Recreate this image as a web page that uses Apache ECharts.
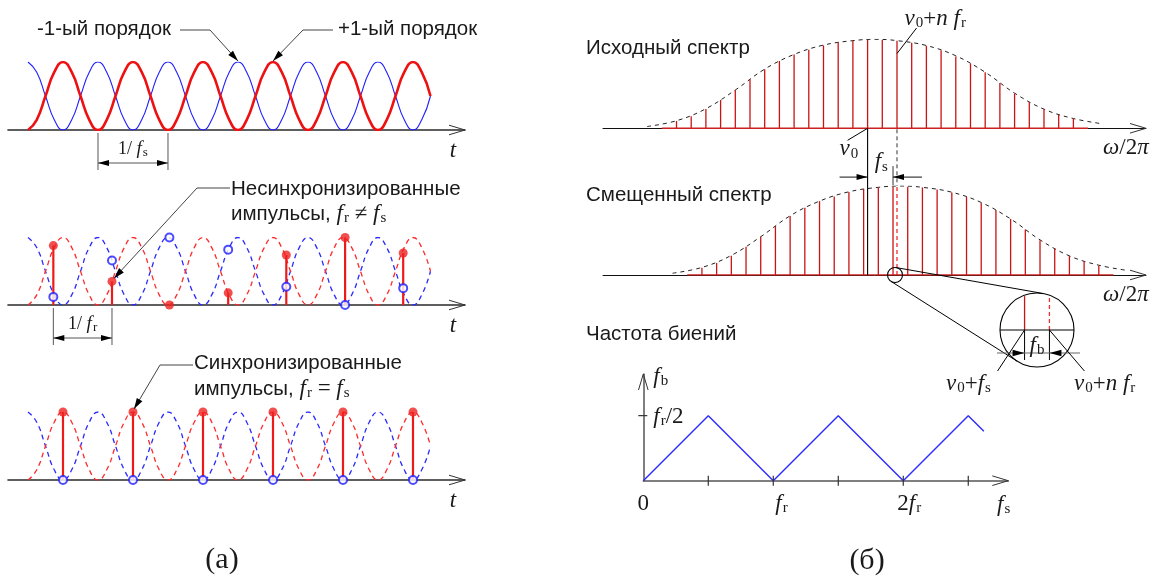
<!DOCTYPE html>
<html>
<head>
<meta charset="utf-8">
<script src="https://cdn.jsdelivr.net/npm/echarts@6/dist/echarts.min.js"></script>
<style>
  html, body { margin: 0; padding: 0; background: #fff; }
  #c { width: 1153px; height: 578px; }
</style>
</head>
<body>
<div id="c"></div>
<script>
// ---- (а) time domain: the two diffraction orders, time in units of 1/f_s ----
const waveT = [0, 0.125, 0.25, 0.375, 0.5, 0.625, 0.75, 0.875,
  1, 1.125, 1.25, 1.375, 1.5, 1.625, 1.75, 1.875,
  2, 2.125, 2.25, 2.375, 2.5, 2.625, 2.75, 2.875,
  3, 3.125, 3.25, 3.375, 3.5, 3.625, 3.75, 3.875,
  4, 4.125, 4.25, 4.375, 4.5, 4.625, 4.75, 4.875,
  5, 5.125, 5.25, 5.375, 5.5, 5.625, 5.75];
// +1 order (red)
const redWave = [0, 0.15, 0.5, 0.85, 1, 0.85, 0.5, 0.15,
  0, 0.15, 0.5, 0.85, 1, 0.85, 0.5, 0.15,
  0, 0.15, 0.5, 0.85, 1, 0.85, 0.5, 0.15,
  0, 0.15, 0.5, 0.85, 1, 0.85, 0.5, 0.15,
  0, 0.15, 0.5, 0.85, 1, 0.85, 0.5, 0.15,
  0, 0.15, 0.5, 0.85, 1, 0.85, 0.5];
// -1 order (blue)
const blueWave = [1, 0.85, 0.5, 0.15, 0, 0.15, 0.5, 0.85,
  1, 0.85, 0.5, 0.15, 0, 0.15, 0.5, 0.85,
  1, 0.85, 0.5, 0.15, 0, 0.15, 0.5, 0.85,
  1, 0.85, 0.5, 0.15, 0, 0.15, 0.5, 0.85,
  1, 0.85, 0.5, 0.15, 0, 0.15, 0.5, 0.85,
  1, 0.85, 0.5, 0.15, 0, 0.15, 0.5];

// pulses not locked to the drive: f_r != f_s
const asyncT    = [0.362, 1.2, 2.02, 2.86, 3.69, 4.53, 5.36];
const asyncRed  = [0.88, 0.35, 0.0, 0.18, 0.74, 1.0, 0.77];
const asyncBlue = [0.12, 0.66, 1.0, 0.82, 0.27, 0.0, 0.25];

// pulses locked to the drive: f_r = f_s
const syncT    = [0.5, 1.5, 2.5, 3.5, 4.5, 5.5];
const syncRed  = [1, 1, 1, 1, 1, 1];
const syncBlue = [0, 0, 0, 0, 0, 0];

// ---- (б) frequency domain: comb lines, offset from ν0 in units of f_r ----
const combIndex = [-13, -12, -11, -10, -9, -8, -7, -6, -5, -4, -3, -2, -1, 0,
  1, 2, 3, 4, 5, 6, 7, 8, 9, 10, 11, 12, 13, 14];
const combHeights = [0.082, 0.135, 0.217, 0.318, 0.43, 0.55, 0.663, 0.756, 0.83, 0.883, 0.932, 0.966, 0.984, 0.992,
  0.992, 0.984, 0.962, 0.928, 0.877, 0.808, 0.73, 0.63, 0.51, 0.39, 0.296, 0.213, 0.153, 0.108];
const envelopeX = [-15, -13, -11, -9, -7, -5, -3, -1, 0.5, 2, 4, 6, 8, 10, 12, 14, 16];
const envelopeY = [0.02, 0.085, 0.22, 0.43, 0.665, 0.83, 0.935, 0.985, 1.0, 0.985, 0.93, 0.815, 0.63, 0.395, 0.215, 0.11, 0.05];
const combBaseline = [-14, 15];
const combShift = 1.73;      // f_s / f_r : shift of the comb by the drive frequency
const nearestLine = 2;       // n of the line ν0 + n f_r closest to ν0 + f_s

// beat frequency versus drive frequency (both in units of f_r)
const beatX = [0, 0.5, 1, 1.5, 2, 2.5, 2.62];
const beatY = [0, 0.5, 0, 0.5, 0, 0.5, 0.38];
const beatTicks = [0.5, 1, 1.5, 2, 2.5];

const SERIF = '"Liberation Serif", "DejaVu Serif", serif';
const SANS = '"Liberation Sans", Arial, sans-serif';
const INK = '#1a1a1a';

const pairs = (xs, ys) => xs.map((x, i) => [x, ys[i]]);
const shifted = (xs, d) => xs.map(x => x + d);

function stemRender(color, width, dash) {
  return function (params, api) {
    const x = api.value(0), y = api.value(1);
    const p0 = api.coord([x, 0]), p1 = api.coord([x, y]);
    return { type: 'line', shape: { x1: p0[0], y1: p0[1], x2: p1[0], y2: p1[1] },
      style: { stroke: color, lineWidth: width, lineDash: dash || null } };
  };
}
// lines inside the magnifier run from its axis to the rim
function insetRender(color, dash) {
  return function (params, api) {
    const cs = params.coordSys;
    const cx = cs.x + cs.width / 2, cy = cs.y + cs.height, R = cs.width / 2;
    const p0 = api.coord([api.value(0), 0]);
    const dx = p0[0] - cx;
    const top = cy - Math.sqrt(Math.max(R * R - dx * dx, 0)) + 1;
    return { type: 'line', shape: { x1: p0[0], y1: p0[1], x2: p0[0], y2: top },
      style: { stroke: color, lineWidth: 1.3, lineDash: dash || null } };
  };
}

const hiddenY = (g, max) => ({ gridIndex: g, type: 'value', min: 0, max: max || 1, show: false });
const timeAxis = g => ({ gridIndex: g, type: 'value', min: -0.2857, max: 6.2429,
  axisLine: { show: true, onZero: true, lineStyle: { color: '#2a2a2a', width: 1.6 } },
  axisTick: { show: false }, axisLabel: { show: false }, splitLine: { show: false } });
const freqAxis = g => ({ gridIndex: g, type: 'value', min: -18, max: 18.94,
  axisLine: { show: true, lineStyle: { color: '#111', width: 1 } },
  axisTick: { show: false }, axisLabel: { show: false }, splitLine: { show: false } });

const insetMid = (combShift + nearestLine) / 2;

const option = {
  animation: false,
  backgroundColor: '#fff',
  grid: [
    { left: 8, top: 62, width: 457, height: 68 },
    { left: 8, top: 237.5, width: 457, height: 67.5 },
    { left: 8, top: 412, width: 457, height: 68 },
    { left: 603, top: 39.3, width: 543, height: 89 },
    { left: 603, top: 186, width: 543, height: 89 },
    { left: 643.3, top: 374, width: 365, height: 106.7 },
    { left: 1000, top: 293, width: 74, height: 37 }
  ],
  xAxis: [
    timeAxis(0), timeAxis(1), timeAxis(2),
    freqAxis(3), freqAxis(4),
    { gridIndex: 5, type: 'value', min: 0, max: 2.808,
      axisLine: { show: true, lineStyle: { color: '#555', width: 1.5 } },
      axisTick: { show: false }, axisLabel: { show: false }, splitLine: { show: false } },
    { gridIndex: 6, type: 'value', min: insetMid - 0.402, max: insetMid + 0.402, show: false }
  ],
  yAxis: [
    hiddenY(0), hiddenY(1), hiddenY(2), hiddenY(3), hiddenY(4),
    { gridIndex: 5, type: 'value', min: 0, max: 0.82,
      axisLine: { show: true, lineStyle: { color: '#555', width: 1.5 } },
      axisTick: { show: false }, axisLabel: { show: false }, splitLine: { show: false } },
    hiddenY(6)
  ],
  series: [
    // (а) top: both orders
    { type: 'line', xAxisIndex: 0, yAxisIndex: 0, data: pairs(waveT, blueWave), smooth: 0.5,
      showSymbol: false, lineStyle: { color: '#1f1fff', width: 1.1 }, z: 2 },
    { type: 'line', xAxisIndex: 0, yAxisIndex: 0, data: pairs(waveT, redWave), smooth: 0.5,
      showSymbol: false, lineStyle: { color: '#ee1111', width: 2.6 }, z: 3 },
    // (а) middle: unsynchronised pulses
    { type: 'line', xAxisIndex: 1, yAxisIndex: 1, data: pairs(waveT, blueWave), smooth: 0.5,
      showSymbol: false, lineStyle: { color: '#2a2aff', width: 1.3, type: [5, 4] } },
    { type: 'line', xAxisIndex: 1, yAxisIndex: 1, data: pairs(waveT, redWave), smooth: 0.5,
      showSymbol: false, lineStyle: { color: '#ff2a2a', width: 1.3, type: [5, 4] } },
    { type: 'custom', xAxisIndex: 1, yAxisIndex: 1, data: pairs(asyncT, asyncRed),
      renderItem: stemRender('#ee1a1a', 2.2), z: 4 },
    { type: 'scatter', xAxisIndex: 1, yAxisIndex: 1, data: pairs(asyncT, asyncRed),
      symbol: 'circle', symbolSize: 9, itemStyle: { color: '#ee2222' }, z: 5 },
    { type: 'scatter', xAxisIndex: 1, yAxisIndex: 1, data: pairs(asyncT, asyncBlue),
      symbol: 'emptyCircle', symbolSize: 8, itemStyle: { color: '#1f1fff', borderWidth: 1.6 }, z: 6 },
    // (а) bottom: synchronised pulses
    { type: 'line', xAxisIndex: 2, yAxisIndex: 2, data: pairs(waveT, blueWave), smooth: 0.5,
      showSymbol: false, lineStyle: { color: '#2a2aff', width: 1.3, type: [5, 4] } },
    { type: 'line', xAxisIndex: 2, yAxisIndex: 2, data: pairs(waveT, redWave), smooth: 0.5,
      showSymbol: false, lineStyle: { color: '#ff2a2a', width: 1.3, type: [5, 4] } },
    { type: 'custom', xAxisIndex: 2, yAxisIndex: 2, data: pairs(syncT, syncRed),
      renderItem: stemRender('#ee1a1a', 2.2), z: 4 },
    { type: 'scatter', xAxisIndex: 2, yAxisIndex: 2, data: pairs(syncT, syncRed),
      symbol: 'circle', symbolSize: 9, itemStyle: { color: '#ee2222' }, z: 5 },
    { type: 'scatter', xAxisIndex: 2, yAxisIndex: 2, data: pairs(syncT, syncBlue),
      symbol: 'emptyCircle', symbolSize: 8, itemStyle: { color: '#1f1fff', borderWidth: 1.6 }, z: 6 },
    // (б) original spectrum
    { type: 'line', xAxisIndex: 3, yAxisIndex: 3, data: combBaseline.map(x => [x, 0]),
      showSymbol: false, lineStyle: { color: '#cc2020', width: 1.4 }, z: 3 },
    { type: 'custom', xAxisIndex: 3, yAxisIndex: 3, data: pairs(combIndex, combHeights),
      renderItem: stemRender('#c81414', 1.3), z: 3 },
    { type: 'line', xAxisIndex: 3, yAxisIndex: 3, data: pairs(envelopeX, envelopeY), smooth: 0.4,
      showSymbol: false, lineStyle: { color: '#222', width: 1, type: [4, 4] }, z: 2 },
    // (б) shifted spectrum
    { type: 'line', xAxisIndex: 4, yAxisIndex: 4, data: shifted(combBaseline, combShift).map(x => [x, 0]),
      showSymbol: false, lineStyle: { color: '#cc2020', width: 1.4 }, z: 3 },
    { type: 'custom', xAxisIndex: 4, yAxisIndex: 4, data: pairs(shifted(combIndex, combShift), combHeights),
      renderItem: stemRender('#c81414', 1.3), z: 3 },
    { type: 'custom', xAxisIndex: 4, yAxisIndex: 4,
      data: [[nearestLine, combHeights[combIndex.indexOf(nearestLine)] + 0.01]],
      renderItem: stemRender('#ee3030', 1.3, [4, 3]), z: 3 },
    { type: 'line', xAxisIndex: 4, yAxisIndex: 4, data: pairs(shifted(envelopeX, combShift), envelopeY), smooth: 0.4,
      showSymbol: false, lineStyle: { color: '#222', width: 1, type: [4, 4] }, z: 2 },
    // (б) beat frequency
    { type: 'line', xAxisIndex: 5, yAxisIndex: 5, data: pairs(beatX, beatY),
      showSymbol: false, lineStyle: { color: '#2b2bff', width: 1.4 }, z: 3 },
    // magnifier
    { type: 'custom', xAxisIndex: 6, yAxisIndex: 6, data: [[combShift, 1]],
      renderItem: insetRender('#c81414'), z: 12 },
    { type: 'custom', xAxisIndex: 6, yAxisIndex: 6, data: [[nearestLine, 1]],
      renderItem: insetRender('#ee3030', [4, 3]), z: 12 }
  ]
};

const chart = echarts.init(document.getElementById('c'));
chart.setOption(option);

// ---- annotations ----
const px = (g, x, y) => chart.convertToPixel({ gridIndex: g }, [x, y]);
const RICH = {
  s: { fontFamily: SANS, fontSize: 20.5, lineHeight: 24, color: INK },
  i: { fontFamily: SERIF, fontStyle: 'italic', fontSize: 23, lineHeight: 24, color: INK },
  r: { fontFamily: SERIF, fontSize: 23, lineHeight: 24, color: INK },
  b: { fontFamily: SERIF, fontSize: 15, lineHeight: 15, padding: [9, 0, 0, 1], color: INK },
  i2: { fontFamily: SERIF, fontStyle: 'italic', fontSize: 19, lineHeight: 21, color: INK },
  r2: { fontFamily: SERIF, fontSize: 18, lineHeight: 21, color: INK },
  b2: { fontFamily: SERIF, fontSize: 13, lineHeight: 13, padding: [8, 0, 0, 1], color: INK },
  big: { fontFamily: SERIF, fontSize: 30, lineHeight: 32, color: INK }
};
const G = [];
function text(x, y, t, align) {
  G.push({ type: 'text', z: 50, silent: true,
    style: { x, y, text: t, rich: RICH, align: align || 'left', verticalAlign: 'middle',
      fontFamily: SANS, fontSize: 20.5, fill: INK } });
}
function line(a, b, color, w, dash) {
  G.push({ type: 'line', z: 40, silent: true,
    shape: { x1: a[0], y1: a[1], x2: b[0], y2: b[1] },
    style: { stroke: color || INK, lineWidth: w || 1, lineDash: dash || null } });
}
function poly(points, color, w) {
  G.push({ type: 'polyline', z: 40, silent: true, shape: { points },
    style: { stroke: color || INK, lineWidth: w || 1, fill: null } });
}
function head(tip, from, len, half, color) {
  const dx = tip[0] - from[0], dy = tip[1] - from[1], d = Math.hypot(dx, dy);
  const ux = dx / d, uy = dy / d;
  const bx = tip[0] - ux * len, by = tip[1] - uy * len;
  G.push({ type: 'polygon', z: 41, silent: true,
    shape: { points: [tip, [bx - uy * half, by + ux * half], [bx + uy * half, by - ux * half]] },
    style: { fill: color || '#000' } });
}
function chevron(tip, from) {
  const dx = tip[0] - from[0], dy = tip[1] - from[1], d = Math.hypot(dx, dy);
  const ux = dx / d, uy = dy / d, L = 16, H = 4.8;
  const bx = tip[0] - ux * L, by = tip[1] - uy * L;
  poly([[bx - uy * H, by + ux * H], tip, [bx + uy * H, by - ux * H]], '#333', 1);
}
function leader(points, tip) {
  poly(points.concat([tip]), '#444', 1);
  head(tip, points[points.length - 1], 11, 3.2, '#000');
}
function dimension(xa, xb, y, outsideL, outsideR, color) {
  if (outsideL) {
    line([xa - outsideL, y], [xa, y], color);
    head([xa, y], [xa - 10, y], 11, 3, '#000');
    line([xb + outsideR, y], [xb, y], color);
    head([xb, y], [xb + 10, y], 11, 3, '#000');
  } else {
    line([xa, y], [xb, y], color);
    head([xa, y], [xa + 10, y], 11, 3, '#000');
    head([xb, y], [xb - 10, y], 11, 3, '#000');
  }
}

// (а) axes arrows and t labels
[0, 1, 2].forEach(g => {
  const o = px(g, -0.2857, 0), e = px(g, 6.2429, 0);
  chevron(e, o);
  text(e[0] - 12, e[1] + 21, '{i|t}', 'center');
});
// orders
text(37, 29, '-1-ый порядок');
text(338, 29, '+1-ый порядок');
leader([[180, 30], [210, 30]], (p => [p[0], p[1] - 1])(px(0, 3, 1)));
leader([[333, 30], [303, 30]], (p => [p[0], p[1] - 1])(px(0, 3.5, 1)));
// 1/f_s dimension
(function () {
  const a = px(0, 1, 0), b = px(0, 2, 0);
  line([a[0], a[1] + 3], [a[0], a[1] + 40], '#555');
  line([b[0], b[1] + 3], [b[0], b[1] + 40], '#555');
  dimension(a[0], b[0], a[1] + 33, 0, 0, '#555');
  text((a[0] + b[0]) / 2, a[1] + 19, '{r2|1/ }{i2|f}{b2|s}', 'center');
})();
// unsynchronised pulses
text(231, 189, 'Несинхронизированные');
text(231, 214, '{s|импульсы,}{i| f}{b|r}{r| ≠ }{i|f}{b|s}');
leader([[230, 188], [197, 188]], (p => [p[0] + 2, p[1] - 3])(px(1, asyncT[1], asyncRed[1])));
(function () {
  const a = px(1, asyncT[0], 0), b = px(1, asyncT[1], 0);
  line([a[0], a[1] + 3], [a[0], a[1] + 40], '#555');
  line([b[0], b[1] + 3], [b[0], b[1] + 40], '#555');
  dimension(a[0], b[0], a[1] + 33, 0, 0, '#555');
  text((a[0] + b[0]) / 2, a[1] + 19, '{r2|1/ }{i2|f}{b2|r}', 'center');
})();
// synchronised pulses
text(194, 363, 'Синхронизированные');
text(194, 389, '{s|импульсы,}{i| f}{b|r}{r| = }{i|f}{b|s}');
leader([[193, 365], [160, 365]], (p => [p[0] + 1, p[1] - 3])(px(2, syncT[1], syncRed[1])));
text(222, 560, '{big|(а)}', 'center');

// (б) spectra
text(586, 48, 'Исходный спектр');
text(586, 195, 'Смещенный спектр');
text(586, 334, 'Частота биений');
text(867, 561, '{big|(б)}', 'center');
[3, 4].forEach(g => {
  const o = px(g, -18, 0), e = px(g, 18.94, 0);
  chevron(e, o);
  text(1103, e[1] + 20, '{i|ω}{r|/2}{i|π}');
});
(function () {
  const o1 = px(3, 0, 0), o2 = px(4, 0, 0);
  // ν0 reference line through both spectra
  line(o1, [o1[0], o2[1]], '#000', 1.1);
  // position of ν0 + n f_r carried down to the shifted spectrum
  const n1 = px(3, nearestLine, 0), n2 = px(4, nearestLine, 1);
  line([n1[0], n1[1] + 1], [n1[0], n2[1]], '#333', 1, [4, 3]);
  // f_s dimension
  const xs = px(4, combShift, 0)[0], yd = px(4, 0, 1.1)[1];
  line([xs, yd - 11], [xs, yd + 8], '#333', 1);
  dimension(o1[0], xs, yd, 28, 29, '#111');
  text((o1[0] + xs) / 2 + 1, yd - 15, '{i|f}{b|s}', 'center');
  // labels on the original spectrum
  text(o1[0] - 28, o1[1] + 21, '{i|ν}{b|0}');
  line([o1[0] - 20, o1[1] + 12], o1, '#000', 1);
  text(o1[0] + 37, 19, '{i|ν}{b|0}{r|+}{i|n f}{b|r}');
  line([o1[0] + 49, 28], px(3, nearestLine, 0.84), '#000', 1);

  // magnifier
  const c1 = px(4, insetMid, 0), r1 = 7.5;
  const gb = px(6, insetMid, 0), R = 37;
  const c2 = [gb[0], gb[1]];
  const dx = c2[0] - c1[0], dy = c2[1] - c1[1], d = Math.hypot(dx, dy);
  const phi = Math.atan2(dy, dx), beta = Math.acos((r1 - R) / d);
  [phi + beta, phi - beta].forEach(a => {
    const nx = Math.cos(a), ny = Math.sin(a);
    line([c1[0] + r1 * nx, c1[1] + r1 * ny], [c2[0] + R * nx, c2[1] + R * ny], '#000', 1);
  });
  G.push({ type: 'circle', z: 41, silent: true, shape: { cx: c1[0], cy: c1[1], r: r1 },
    style: { fill: null, stroke: '#000', lineWidth: 1.1 } });
  G.push({ type: 'circle', z: 5, silent: true, shape: { cx: c2[0], cy: c2[1], r: R },
    style: { fill: '#fff', stroke: '#000', lineWidth: 1.1 } });
  line([c2[0] - R, c2[1]], [c2[0] + R, c2[1]], '#000', 1);
  const xa = px(6, combShift, 0)[0], xb = px(6, nearestLine, 0)[0];
  line([xa, c2[1]], [xa, c2[1] + 30], '#000', 1);
  line([xb, c2[1]], [xb, c2[1] + 30], '#000', 1);
  line([c2[0] - 40, c2[1] + 23], [c2[0] + 43, c2[1] + 23], '#666', 1.2);
  head([xa, c2[1] + 23], [xa - 10, c2[1] + 23], 12, 3.2, '#000');
  head([xb, c2[1] + 23], [xb + 10, c2[1] + 23], 12, 3.2, '#000');
  text((xa + xb) / 2, c2[1] + 16, '{i|f}{b|b}', 'center');
  line([xa, c2[1]], [xa - 27, c2[1] + 41], '#000', 1);
  line([xb, c2[1]], [xb + 35, c2[1] + 41], '#000', 1);
  text(946, 384, '{i|ν}{b|0}{r|+}{i|f}{b|s}');
  text(1074, 384, '{i|ν}{b|0}{r|+}{i|n f}{b|r}');
})();

// beat-frequency plot
(function () {
  const o = px(5, 0, 0);
  chevron(px(5, 2.808, 0), o);
  chevron(px(5, 0, 0.82), o);
  beatTicks.forEach(v => { const p = px(5, v, 0); line([p[0], p[1] - 5], [p[0], p[1] + 5], '#333', 1.2); });
  const yh = px(5, 0, 0.5);
  line([yh[0] - 5, yh[1]], [yh[0] + 4, yh[1]], '#333', 1.2);
  text(o[0], o[1] + 23, '{r|0}', 'center');
  text(px(5, 1, 0)[0] + 2, o[1] + 23, '{i|f}{b|r}');
  text(px(5, 2, 0)[0] - 6, o[1] + 23, '{r|2}{i|f}{b|r}');
  text(997, o[1] + 24, '{i|f}{b|s}');
  text(o[0] + 10, 377, '{i|f}{b|b}');
  text(o[0] + 10, yh[1] + 1, '{i|f}{b|r}{r|/2}');
})();

chart.setOption({ graphic: G });
</script>
</body>
</html>
